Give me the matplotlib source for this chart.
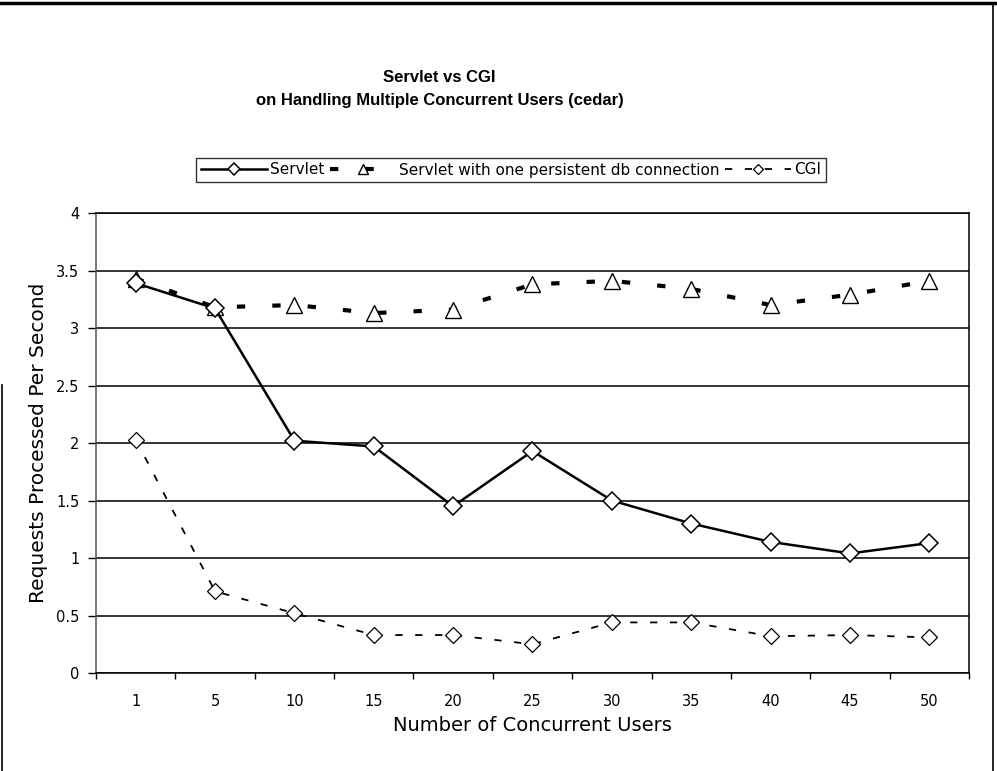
import matplotlib
matplotlib.use("Agg")
import matplotlib.pyplot as plt
from matplotlib.lines import Line2D
import numpy as np

users = ["1", "5", "10", "15", "20", "25", "30", "35", "40", "45", "50"]
servlet = [3.39, 3.17, 2.02, 1.97, 1.45, 1.93, 1.50, 1.30, 1.14, 1.04, 1.13]
servlet_persistent = [3.43, 3.18, 3.20, 3.13, 3.16, 3.38, 3.41, 3.34, 3.20, 3.29, 3.41]
cgi = [2.03, 0.71, 0.52, 0.33, 0.33, 0.25, 0.44, 0.44, 0.32, 0.33, 0.31]
y_ticks = [0, 0.5, 1, 1.5, 2, 2.5, 3, 3.5, 4]
y_tick_labels = ["0", "0.5", "1", "1.5", "2", "2.5", "3", "3.5", "4"]

plt.rcParams["font.family"] = ["DejaVu Sans"]

fig = plt.figure(figsize=(9.97, 7.71), dpi=100)
ax = fig.add_axes([0.0963, 0.1271, 0.9719 - 0.0963, 0.7237 - 0.1271])

x = np.arange(len(users))

# horizontal gridlines every 0.5
for yv in y_ticks:
    ax.axhline(yv, color="black", lw=1.1, zorder=1)

ax.plot(x, servlet, color="black", lw=1.8, marker="D", markersize=9.5,
        markerfacecolor="white", markeredgecolor="black", markeredgewidth=1.1,
        zorder=4, label="Servlet")
ln_p, = ax.plot(x, servlet_persistent, color="black", lw=3.0, marker="^",
                markersize=12, markerfacecolor="white", markeredgecolor="black",
                markeredgewidth=1.0, zorder=3,
                label="Servlet with one persistent db connection")
ln_p.set_dashes([2.0, 6.5])
ln_c, = ax.plot(x, cgi, color="black", lw=1.3, marker="D", markersize=8,
                markerfacecolor="white", markeredgecolor="black",
                markeredgewidth=0.9, zorder=3, label="CGI")
ln_c.set_dashes([4.0, 7.0])

ax.set_xlim(-0.5, len(users) - 0.5)
ax.set_ylim(0, 4)

ax.set_xticks(x)
ax.set_xticklabels(users, fontsize=10.5)
ax.set_xticks(np.arange(-0.5, len(users), 1.0), minor=True)
ax.tick_params(axis="x", which="major", length=0, pad=15)
ax.tick_params(axis="x", which="minor", length=4, direction="out", width=1)

ax.set_yticks(y_ticks)
ax.set_yticklabels(y_tick_labels, fontsize=10.5)
ax.tick_params(axis="y", length=6, direction="out", width=1, pad=6)

for s in ["left", "right", "bottom", "top"]:
    ax.spines[s].set_color("black")
    ax.spines[s].set_linewidth(1.1)
ax.spines["left"].set_color("#555555")

ax.set_xlabel("Number of Concurrent Users", fontsize=14, labelpad=5)
ax.set_ylabel("Requests Processed Per Second", fontsize=14.5, labelpad=6)

fig.text(0.441, 1 - 77 / 771, "Servlet vs CGI", ha="center", va="center",
         fontsize=12, fontweight="bold", family="Liberation Sans")
fig.text(0.441, 1 - 101 / 771, "on Handling Multiple Concurrent Users (cedar)",
         ha="center", va="center", fontsize=12, fontweight="bold",
         family="Liberation Sans")

leg = fig.legend(handles=[ax.lines[-3], ax.lines[-2], ax.lines[-1]],
                 loc="center", bbox_to_anchor=(511 / 997, 1 - 170 / 771),
                 ncol=3, fontsize=11, frameon=True, fancybox=False,
                 edgecolor="black", handlelength=4.3, handletextpad=0.2,
                 columnspacing=0.4, borderpad=0.3, markerscale=0.6)
leg.get_frame().set_linewidth(1.0)

# outer chart border
fig.add_artist(Line2D([0, 1], [1 - 3 / 771, 1 - 3 / 771], color="black", lw=2.5,
                      transform=fig.transFigure))
fig.add_artist(Line2D([993 / 997, 993 / 997], [0, 1 - 3 / 771], color="black",
                      lw=1.2, transform=fig.transFigure))
fig.add_artist(Line2D([2 / 997, 2 / 997], [0, 1 - 385 / 771], color="black",
                      lw=1.2, transform=fig.transFigure))

fig.savefig("out.png", dpi=100)
